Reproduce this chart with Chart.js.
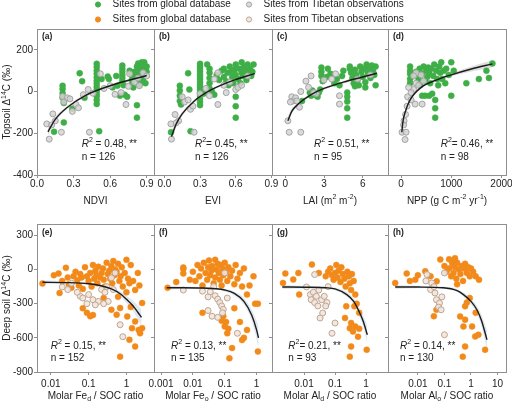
<!DOCTYPE html>
<html><head><meta charset="utf-8">
<script src="https://cdn.jsdelivr.net/npm/chart.js@4.4.1/dist/chart.umd.min.js"></script>
<style>
html,body{margin:0;padding:0;background:#fff;}
#wrap{position:relative;width:512px;height:403px;overflow:hidden;background:#fff;}
#wrap canvas{position:absolute;left:0;top:0;}
</style></head><body><div id="wrap"></div>
<script>
// ================= DATA =================
// tick values / labels
const topYTicks = [-400, -200, 0, 200];
const topYLabels = ['-400', '-200', '0', '200'];
const botYTicks = [-900, -600, -300, 0, 300];
const botYLabels = ['-900', '-600', '-300', '0', '300'];
const ndviTicks = [0, 0.3, 0.6, 0.9];  const ndviLabels = ['0.0', '0.3', '0.6', '0.9'];
const eviTicks = [0, 0.3, 0.6, 0.9];   const eviLabels = ['0.0', '0.3', '0.6', '0.9'];
const laiTicks = [0, 3, 6];            const laiLabels = ['0', '3', '6'];
const nppTicks = [0, 1000, 2000];      const nppLabels = ['0', '1000', '2000'];
const fedTicks = [0.01, 0.1, 1];       const fedLabels = ['0.01', '0.1', '1'];
const feoTicks = [0.001, 0.01, 0.1, 1]; const feoLabels = ['0.001', '0.01', '0.1', '1'];
const aldTicks = [0.01, 0.1, 1];       const aldLabels = ['0.01', '0.1', '1'];
const aloTicks = [0.01, 0.1, 1, 10];   const aloLabels = ['0.01', '0.1', '1', '10'];

// (a) NDVI
const ndviGlobal = [[0.14,-193],[0.21,28],[0.21,12],[0.21,-8],[0.21,-30],[0.22,-55],[0.22,-148],[0.29,-82],[0.35,88],[0.37,50],[0.39,-30],
 [0.49,133],[0.49,118],[0.49,100],[0.49,85],[0.49,68],[0.49,52],[0.49,38],[0.49,22],[0.49,8],[0.49,-8],[0.49,-22],[0.49,-40],[0.49,-60],
 [0.51,-190],[0.53,60],[0.58,72],[0.59,60],[0.62,20],[0.65,75],
 [0.70,125],[0.70,110],[0.70,95],[0.70,80],[0.70,65],[0.70,48],[0.71,30],[0.72,-15],[0.74,-25],[0.68,-20],[0.66,28],
 [0.76,100],[0.77,85],[0.78,60],[0.78,40],[0.79,20],[0.82,-65],[0.82,-125],
 [0.80,95],[0.82,120],[0.83,135],[0.84,110],[0.85,95],[0.85,75],[0.86,140],[0.86,115],[0.87,100],[0.87,60],[0.88,125],[0.88,85],
 [0.89,110],[0.89,40],[0.83,55],[0.84,30],[0.86,45],[0.90,95],[0.81,80],[0.88,140],[0.90,120]];
const ndviTibet = [[0.08,-155],[0.10,-228],[0.13,-107],[0.15,-140],[0.20,-195],[0.21,-24],[0.22,-50],[0.25,-30],[0.29,-95],[0.32,-62],
 [0.34,-78],[0.42,10],[0.43,-195],[0.46,-8],[0.52,85],[0.60,28],[0.64,-13],[0.69,-5],[0.73,-62],[0.75,25],[0.76,85],[0.80,45],
 [0.83,65],[0.84,28],[0.87,90],[0.90,75],[0.55,15],[0.38,-15],[0.27,-35],[0.12,-160]];
const ndviFitX = [0.09,0.15,0.25,0.4,0.6,0.9];
const ndviFitY = [-193,-133,-75,-18,28,77];
const ndviHi = [-175,-122,-68,-12,34,86];
const ndviLo = [-211,-144,-82,-24,22,68];

// (b) EVI
const eviGlobal = [[0.056,-195],[0.13,28],[0.13,5],[0.13,-20],[0.13,-45],[0.14,-62],[0.20,88],[0.22,-190],[0.21,10],
 [0.30,133],[0.30,120],[0.30,108],[0.30,95],[0.30,82],[0.30,70],[0.30,58],[0.30,45],[0.30,32],[0.30,20],[0.30,8],[0.30,-5],
 [0.30,-20],[0.30,-35],[0.30,-50],[0.30,-65],[0.33,-10],[0.36,130],[0.38,110],[0.38,90],[0.38,65],[0.38,40],[0.38,15],[0.40,0],[0.42,-15],
 [0.44,80],[0.46,55],[0.48,100],[0.50,110],[0.50,70],[0.52,50],[0.53,90],[0.54,30],[0.55,120],[0.56,95],[0.57,70],[0.58,40],
 [0.59,105],[0.60,130],[0.60,80],[0.60,-25],[0.60,-70],[0.60,-125],[0.62,60],[0.63,110],[0.64,40],[0.65,140],[0.65,90],[0.66,75],
 [0.67,120],[0.68,100],[0.69,55],[0.70,130],[0.70,85],[0.72,110],[0.73,75],[0.74,95],[0.75,130]];
const eviTibet = [[0.06,-228],[0.055,-155],[0.09,-110],[0.12,-140],[0.10,-150],[0.15,-25],[0.17,-50],[0.20,-40],[0.22,-85],[0.25,-195],
 [0.24,-70],[0.30,-10],[0.35,15],[0.38,-20],[0.45,-62],[0.50,30],[0.52,-5],[0.55,45],[0.42,60],[0.60,10],[0.62,20],[0.65,30],[0.70,75],[0.45,90]];
const eviFitX = [0.06,0.1,0.15,0.25,0.4,0.6,0.76];
const eviFitY = [-216,-155,-107,-46,10,58,86];
const eviHi = [-190,-140,-97,-39,16,65,96];
const eviLo = [-242,-170,-117,-53,4,51,76];

// (c) LAI
const laiGlobal = [[1.3,-45],[1.9,-5],[2.0,-20],[2.1,5],[2.3,-15],[2.5,-25],[2.6,-5],[2.7,10],[2.8,115],[2.8,95],[2.8,75],[2.9,50],
 [3.2,70],[3.5,85],[3.3,110],[3.8,40],[4.0,60],[4.2,30],[4.4,75],[4.5,100],[4.8,-5],[4.8,-25],[4.8,-48],[4.8,-80],[4.8,-125],
 [5.0,120],[5.1,90],[5.2,65],[5.3,40],[5.4,105],[5.5,80],[5.6,55],[5.7,30],[5.8,120],[5.9,95],[6.0,70],[6.1,110],[6.2,45],
 [6.3,130],[6.4,90],[6.5,115],[6.6,65],[6.7,125],[6.8,100],[6.9,80],[7.0,30],[7.0,120],[5.0,110],[6.2,20],[5.4,25]];
const laiTibet = [[0.2,-140],[0.3,-195],[1.2,-195],[0.5,-25],[0.6,-45],[0.8,-30],[1.1,-75],[1.2,0],[1.6,50],[2.0,75],[2.4,-10],
 [2.2,-5],[3.9,85],[4.2,-20],[4.2,-60],[3.6,60],[5.6,60],[6.6,80],[0.4,-50],[0.9,-45],[1.8,20],[3.0,55]];
const laiFitX = [0.2,0.5,1,2,3,4.5,6,7.1];
const laiFitY = [-140,-95,-60,-15,15,45,70,88];
const laiHi = [-118,-82,-51,-8,21,51,78,99];
const laiLo = [-162,-108,-69,-22,9,39,62,77];

// (d) NPP
const nppGlobal = [[180,120],[180,100],[180,85],[180,60],[180,40],[250,75],[300,95],[350,60],[370,110],[380,30],[420,85],[450,120],
 [480,50],[500,100],[520,70],[540,115],[560,-20],[560,90],[580,40],[600,110],[620,-10],[640,75],[660,130],[680,-40],[680,-80],
 [680,-125],[700,100],[720,60],[740,30],[760,120],[780,90],[800,140],[820,60],[850,100],[880,40],[900,110],[950,80],[1000,140],
 [1000,-20],[1050,100],[1300,40],[1550,60],[1700,100],[1750,65],[1820,135],[420,-20],[480,-20]];
const nppTibet = [[20,-195],[100,-195],[80,-230],[60,-140],[90,-110],[130,-25],[200,-40],[250,10],[300,40],[280,-60],[420,-60],
 [300,90],[400,80],[250,75],[150,20],[200,-5],[350,30],[450,50],[50,-160],[120,-70]];
const nppFitX = [15,40,80,180,400,700,1000,1400,1820];
const nppFitY = [-195,-140,-100,-40,20,55,80,108,133];
const nppHi = [-170,-125,-90,-33,26,61,88,120,150];
const nppLo = [-220,-155,-110,-47,14,49,72,96,116];

// (e) Fe_d
const fedGlobal = [[0.006,-123],[0.012,-50],[0.016,-35],[0.017,-206],[0.02,-100],[0.025,15],[0.028,-70],[0.03,-130],[0.035,-160],
 [0.04,-60],[0.045,-20],[0.05,-95],[0.055,-140],[0.06,-40],[0.065,-70],[0.07,-170],[0.08,20],[0.09,-60],[0.1,-100],[0.11,-30],
 [0.12,-150],[0.13,40],[0.14,-80],[0.15,-10],[0.16,-50],[0.17,-120],[0.18,25],[0.2,-70],[0.22,-30],[0.24,10],[0.25,-90],[0.27,-150],
 [0.3,60],[0.32,-40],[0.35,-10],[0.37,-80],[0.4,30],[0.42,-120],[0.45,75],[0.48,-50],[0.5,0],[0.55,-20],[0.6,50],[0.65,-100],
 [0.7,-60],[0.75,20],[0.8,-150],[0.9,-30],[1.0,85],[1.1,-80],[1.2,-120],[1.3,40],[1.5,-100],[1.7,-180],[2.0,-30],[2.2,-140],
 [0.07,-340],[0.09,-380],[0.11,-410],[0.13,-400],[0.4,-353],[0.55,-397],[0.68,-338],[1.05,-412],[1.4,-515],[1.7,-456],[2.1,-530],
 [2.6,-515],[2.3,-560],[1.7,-676],[1.2,-617],[0.68,-765],[2.6,-294],[1.3,-330],[0.25,-250],[0.6,-240],[1.0,-200]];
const fedTibet = [[0.02,-153],[0.028,-176],[0.035,-120],[0.06,-235],[0.07,-250],[0.1,-220],[0.13,-265],[0.18,-280],[0.15,-310],
 [0.22,-176],[0.27,-200],[0.33,-280],[0.45,-176],[0.4,-73],[0.5,-30],[0.68,-485],[0.8,-590],[0.09,-300],[0.25,-300],[0.3,-150],[0.05,-200]];
const fedFitX = [0.006,0.03,0.1,0.2,0.4,0.7,1.0,1.5,2.0,2.5];
const fedFitY = [-112,-115,-125,-140,-170,-215,-262,-320,-375,-420];
const fedHi = [-95,-105,-115,-128,-155,-192,-230,-275,-315,-350];
const fedLo = [-129,-125,-135,-152,-185,-238,-294,-365,-435,-490];

// (f) Fe_o
const feoGlobal = [[0.0016,-160],[0.003,-110],[0.005,-35],[0.005,5],[0.005,18],[0.008,-90],[0.01,-20],[0.012,-100],[0.014,40],
 [0.016,-60],[0.018,10],[0.02,-140],[0.022,60],[0.025,-30],[0.028,-90],[0.03,20],[0.032,80],[0.035,-50],[0.038,-10],[0.04,30],
 [0.045,-120],[0.05,85],[0.05,-70],[0.055,0],[0.06,50],[0.065,-30],[0.07,-90],[0.075,40],[0.08,-140],[0.085,10],[0.09,-50],
 [0.1,60],[0.11,-20],[0.12,-100],[0.13,20],[0.15,-60],[0.17,-10],[0.2,-130],[0.22,40],[0.25,-80],[0.3,-30],[0.35,-150],[0.4,10],
 [0.5,-220],[0.6,-140],[0.8,-60],[0.9,-300],[0.02,-380],[0.08,-450],[0.1,-500],[0.12,-560],[0.13,-520],[0.11,-460],[0.14,-780],
 [0.17,-690],[0.35,-620],[0.4,-600],[0.5,-530],[0.3,-460],[0.2,-340],[0.09,-410],[1.1,-720],[1.1,-300]];
const feoTibet = [[0.005,-180],[0.02,-190],[0.03,-240],[0.035,-195],[0.05,-230],[0.06,-260],[0.07,-290],[0.08,-320],[0.09,-350],
 [0.085,-380],[0.04,-410],[0.06,-420],[0.03,-360],[0.25,-560],[0.1,-30],[0.045,-150],[0.12,-250]];
const feoFitX = [0.0015,0.005,0.02,0.05,0.1,0.2,0.4,0.7,1.0,1.15];
const feoFitY = [-160,-160,-162,-168,-180,-210,-280,-400,-530,-600];
const feoHi = [-140,-148,-152,-158,-168,-192,-250,-350,-450,-500];
const feoLo = [-180,-172,-172,-178,-192,-228,-310,-450,-610,-700];

// (g) Al_d
const aldGlobal = [[0.0021,-118],[0.0025,-35],[0.0045,-88],[0.0066,-30],[0.007,-220],[0.018,44],[0.03,-30],[0.05,-60],[0.06,-20],
 [0.07,10],[0.08,-50],[0.09,-90],[0.1,-30],[0.11,40],[0.12,-70],[0.13,-10],[0.15,-110],[0.16,20],[0.18,-40],[0.2,-80],[0.22,-150],
 [0.25,-20],[0.28,-60],[0.3,-120],[0.33,-180],[0.35,-40],[0.4,-100],[0.45,-220],[0.21,-426],[0.3,-515],[0.33,-470],[0.38,-545],
 [0.45,-500],[0.55,-590],[0.6,-520],[0.33,-676],[0.3,-765],[1.05,-705],[0.23,-323],[0.42,-323],[0.6,-380],[0.5,-300]];
const aldTibet = [[0.012,-153],[0.016,-220],[0.02,-200],[0.017,-265],[0.022,-290],[0.025,-235],[0.028,-320],[0.037,-265],[0.045,-235],
 [0.04,-382],[0.033,-426],[0.055,-290],[0.05,-320],[0.1,-470],[0.08,-560],[0.022,-44],[0.03,-180],[0.06,-150]];
const aldFitX = [0.002,0.01,0.05,0.1,0.24,0.4,0.56,0.8,1.1];
const aldFitY = [-153,-155,-160,-170,-220,-280,-353,-450,-573];
const aldHi = [-135,-143,-150,-158,-200,-255,-320,-400,-500];
const aldLo = [-171,-167,-170,-182,-240,-305,-386,-500,-646];

// (h) Al_o
const aloGlobal = [[0.0014,-118],[0.0038,-35],[0.005,-100],[0.008,-90],[0.019,-15],[0.03,-60],[0.051,-103],[0.07,88],[0.19,74],
 [0.1,30],[0.12,-20],[0.15,10],[0.18,-60],[0.2,50],[0.22,-30],[0.25,20],[0.28,-80],[0.3,60],[0.35,0],[0.4,-40],[0.45,30],[0.5,-100],
 [0.55,10],[0.6,50],[0.7,-30],[0.8,20],[0.9,-60],[1.0,10],[1.2,-20],[1.5,-60],[2.0,-90],[0.15,90],[0.25,100],[0.05,-353],[0.04,-410],
 [0.39,-412],[0.52,-500],[0.6,-440],[0.6,-323],[0.7,-290],[0.49,-765],[0.6,-676],[1.44,-588],[1.1,-500],[1.9,-573],[3.4,-705],
 [1.5,-380],[0.9,-250],[0.01,-50],[0.3,-130]];
const aloTibet = [[0.022,-44],[0.033,-118],[0.03,-176],[0.044,-206],[0.05,-265],[0.065,-294],[0.06,-330],[0.075,-353],[0.1,-573],
 [0.04,-150],[0.08,-240],[0.1,-30],[0.02,-100]];
const aloFitX = [0.0014,0.01,0.09,0.3,0.52,1.0,1.67,2.5,4.0];
const aloFitY = [-153,-154,-160,-185,-220,-280,-353,-450,-617];
const aloHi = [-135,-143,-150,-172,-202,-255,-320,-400,-530];
const aloLo = [-171,-165,-170,-198,-238,-305,-386,-500,-700];

const r2Values = ['0.48','0.45','0.51','0.46','0.15','0.13','0.21','0.14'];
const nValues = ['126','126','95','98','152','135','93','130'];
const panelLetters = ['(a)','(b)','(c)','(d)','(e)','(f)','(g)','(h)'];

// ================= STYLE / LAYOUT =================
const FONT = '"Liberation Sans", Arial, Helvetica, sans-serif';
const TXT = '#222';
const FRAME = '#8f8f8f';
const GREEN = '#3fae47', ORANGE = '#f28a1b';
const TIB_TOP_FILL = 'rgba(212,212,212,0.85)', TIB_TOP_EDGE = '#a3a3a3';
const TIB_BOT_FILL = 'rgba(242,228,218,0.9)', TIB_BOT_EDGE = '#bda593';
const BAND_TOP = 'rgba(160,160,160,0.35)', BAND_BOT = 'rgba(170,192,212,0.38)';

const colsX = [37, 154, 272, 388, 506];
const rows = [{top: 29, bottom: 175, xH: 32, tickPad: 0, titleOff: 26, r2Off: 31, nOff: 18, lblOff: 8},
              {top: 224, bottom: 372, xH: 30, tickPad: 3, titleOff: 24, r2Off: 26, nOff: 14, lblOff: 9}];

const sup = (t) => ({t, sup: true});
const sub = (t) => ({t, sub: true});
const xTitles = [
  [{t:'NDVI'}], [{t:'EVI'}],
  [{t:'LAI (m'}, sup('2'), {t:' m'}, sup('-2'), {t:')'}],
  [{t:'NPP (g C m'}, sup('-2'), {t:' yr'}, sup('-1'), {t:')'}],
  [{t:'Molar Fe'}, sub('d'), {t:' / SOC ratio'}],
  [{t:'Molar Fe'}, sub('o'), {t:' / SOC ratio'}],
  [{t:'Molar Al'}, sub('d'), {t:' / SOC ratio'}],
  [{t:'Molar Al'}, sub('o'), {t:' / SOC ratio'}]
];
const yTitles = [[{t:'Topsoil \u0394'}, sup('14'), {t:'C (\u2030)'}], [{t:'Deep soil \u0394'}, sup('14'), {t:'C (\u2030)'}]];
const r2Eq = [' = ', '= ', ' = ', '= ', ' = ', ' = ', '= ', ' = '];
const r2X = [44.7, 41, 42, 52.7, 13.7, 17, 16.3, 12];

function drawRich(ctx, runs, x, y, size, align) {
  const f = (r) => `${r.italic ? 'italic ' : ''}${r.bold ? 'bold ' : ''}${(r.sup || r.sub) ? size * 0.7 : size}px ${FONT}`;
  let total = 0;
  const ws = runs.map(r => { ctx.font = f(r); const w = ctx.measureText(r.t).width; total += w; return w; });
  let cx = align === 'center' ? x - total / 2 : x;
  ctx.textBaseline = 'middle'; ctx.textAlign = 'left'; ctx.fillStyle = TXT;
  runs.forEach((r, i) => {
    ctx.font = f(r);
    const dy = r.sup ? -size * 0.38 : (r.sub ? size * 0.32 : 0);
    ctx.fillText(r.t, cx, y + dy);
    cx += ws[i];
  });
}

const decor = {
  id: 'decor',
  afterDraw(chart, args, o) {
    const ctx = chart.ctx, ca = chart.chartArea;
    ctx.save();
    ctx.strokeStyle = FRAME; ctx.lineWidth = 1;
    ctx.strokeRect(Math.round(ca.left) + 0.5, Math.round(ca.top) + 0.5, Math.round(ca.right - ca.left), Math.round(ca.bottom - ca.top));
    const row = rows[o.row];
    // panel letter
    ctx.font = `bold 8.5px ${FONT}`; ctx.fillStyle = TXT; ctx.textBaseline = 'middle'; ctx.textAlign = 'left';
    ctx.fillText(o.letter, ca.left + 5, ca.top + row.lblOff);
    // stats
    drawRich(ctx, [{t:'R', italic:true}, sup('2'), {t: r2Eq[o.idx] + o.r2 + ', **'}], ca.left + r2X[o.idx], ca.bottom - row.r2Off, 10, 'left');
    drawRich(ctx, [{t:'n = ' + o.n}], ca.left + r2X[o.idx], ca.bottom - row.nOff, 10, 'left');
    // x title
    drawRich(ctx, o.xTitle, (ca.left + ca.right) / 2, ca.bottom + row.titleOff, 10, 'center');
    // y title
    if (o.yTitle) {
      ctx.save(); ctx.translate(7.5, (ca.top + ca.bottom) / 2); ctx.rotate(-Math.PI / 2);
      drawRich(ctx, o.yTitle, 0, 0, 10, 'center'); ctx.restore();
    }
    // legend
    if (o.legend) {
      const items = [[98, 4.5, GREEN, GREEN, 'Sites from global database'], [249, 4.5, TIB_TOP_FILL, TIB_TOP_EDGE, 'Sites from Tibetan observations'],
                     [98, 19.5, ORANGE, ORANGE, 'Sites from global database'], [249, 19.5, TIB_BOT_FILL, TIB_BOT_EDGE, 'Sites from Tibetan observations']];
      items.forEach(([x, y, fill, edge, text]) => {
        ctx.beginPath(); ctx.arc(x, y, 2.6, 0, Math.PI * 2); ctx.fillStyle = fill; ctx.fill();
        ctx.lineWidth = 1; ctx.strokeStyle = edge; ctx.stroke();
        drawRich(ctx, [{t: text}], x + 14.5, y, 10, 'left');
      });
    }
    ctx.restore();
  }
};

const toPts = (arr) => arr.map(p => ({x: p[0], y: p[1]}));
const toLine = (xs, ys) => xs.map((x, i) => ({x, y: ys[i]}));

const panels = [
  {x:'linear', min:0, max:0.96, ticks:ndviTicks, labels:ndviLabels, g:ndviGlobal, t:ndviTibet, fx:ndviFitX, fy:ndviFitY, hi:ndviHi, lo:ndviLo},
  {x:'linear', min:-0.087, max:0.905, ticks:eviTicks, labels:eviLabels, g:eviGlobal, t:eviTibet, fx:eviFitX, fy:eviFitY, hi:eviHi, lo:eviLo},
  {x:'linear', min:-1.03, max:7.96, ticks:laiTicks, labels:laiLabels, g:laiGlobal, t:laiTibet, fx:laiFitX, fy:laiFitY, hi:laiHi, lo:laiLo},
  {x:'linear', min:-260, max:2090, ticks:nppTicks, labels:nppLabels, g:nppGlobal, t:nppTibet, fx:nppFitX, fy:nppFitY, hi:nppHi, lo:nppLo},
  {x:'logarithmic', min:0.0043, max:5.36, ticks:fedTicks, labels:fedLabels, g:fedGlobal, t:fedTibet, fx:fedFitX, fy:fedFitY, hi:fedHi, lo:fedLo},
  {x:'logarithmic', min:0.00063, max:3.05, ticks:feoTicks, labels:feoLabels, g:feoGlobal, t:feoTibet, fx:feoFitX, fy:feoFitY, hi:feoHi, lo:feoLo},
  {x:'logarithmic', min:0.00093, max:5.1, ticks:aldTicks, labels:aldLabels, g:aldGlobal, t:aldTibet, fx:aldFitX, fy:aldFitY, hi:aldHi, lo:aldLo},
  {x:'logarithmic', min:0.00075, max:20.8, ticks:aloTicks, labels:aloLabels, g:aloGlobal, t:aloTibet, fx:aloFitX, fy:aloFitY, hi:aloHi, lo:aloLo}
];

const wrap = document.getElementById('wrap');
const Y_W = 36;
panels.forEach((p, idx) => {
  const r = idx < 4 ? 0 : 1, c = idx % 4, row = rows[r];
  const fl = colsX[c], fr = colsX[c + 1];
  const cv = document.createElement('canvas');
  cv.width = 512; cv.height = 403; cv.style.width = '512px'; cv.style.height = '403px';
  wrap.appendChild(cv);
  const yT = r === 0 ? topYTicks : botYTicks, yL = r === 0 ? topYLabels : botYLabels;
  const ptCol = r === 0 ? GREEN : ORANGE;
  const tibFill = r === 0 ? TIB_TOP_FILL : TIB_BOT_FILL, tibEdge = r === 0 ? TIB_TOP_EDGE : TIB_BOT_EDGE;
  const band = r === 0 ? BAND_TOP : BAND_BOT;
  new Chart(cv, {
    type: 'scatter',
    data: { datasets: [
      {label:'Sites from global database', data: toPts(p.g), backgroundColor: ptCol, borderColor: ptCol, borderWidth: 0.5, pointRadius: 3, order: 2},
      {label:'Sites from Tibetan observations', data: toPts(p.t), backgroundColor: tibFill, borderColor: tibEdge, borderWidth: 1, pointRadius: 3, order: 1},
      {type:'line', label:'fit', data: toLine(p.fx, p.fy), borderColor:'#1c1c1c', borderWidth: 1.4, pointRadius: 0, fill: false, cubicInterpolationMode:'monotone', order: 0},
      {type:'line', label:'ci upper', data: toLine(p.fx, p.hi), borderWidth: 0, borderColor:'rgba(0,0,0,0)', pointRadius: 0, fill: false, cubicInterpolationMode:'monotone', order: 4},
      {type:'line', label:'ci lower', data: toLine(p.fx, p.lo), borderWidth: 0, borderColor:'rgba(0,0,0,0)', backgroundColor: band, pointRadius: 0, fill: '-1', cubicInterpolationMode:'monotone', order: 3}
    ]},
    options: {
      responsive: false, devicePixelRatio: 1, animation: false,
      events: [],
      layout: { padding: { left: fl - Y_W, right: 512 - fr, top: row.top, bottom: 403 - row.bottom - row.xH } },
      plugins: { legend: {display: false}, tooltip: {enabled: false},
        decor: { idx, row: r, letter: panelLetters[idx], r2: r2Values[idx], n: nValues[idx], xTitle: xTitles[idx],
                 yTitle: c === 0 ? yTitles[r] : null, legend: idx === 0 } },
      scales: {
        x: {
          type: p.x, position: 'bottom', min: p.min, max: p.max,
          grid: { drawOnChartArea: false, drawTicks: true, tickLength: 3, color: FRAME },
          border: { display: false },
          ticks: { autoSkip: false, maxRotation: 0, padding: row.tickPad, color: TXT, font: {family: FONT, size: 10},
                   callback: (v, i) => p.labels[i] },
          afterBuildTicks: (s) => { s.ticks = p.ticks.map(v => ({value: v})); },
          afterFit: (s) => { s.height = row.xH; s.paddingLeft = 0; s.paddingRight = 0; }
        },
        y: {
          type: 'linear', position: 'left', min: r === 0 ? -400 : -900, max: r === 0 ? 300 : 400,
          grid: { drawOnChartArea: false, drawTicks: true, tickLength: 3, color: FRAME },
          border: { display: false },
          ticks: { display: c === 0, padding: 1, color: TXT, font: {family: FONT, size: 10}, callback: (v, i) => yL[i] },
          afterBuildTicks: (s) => { s.ticks = yT.map(v => ({value: v})); },
          afterFit: (s) => { s.width = Y_W; s.paddingTop = 0; s.paddingBottom = 0; }
        }
      }
    },
    plugins: [decor]
  });
});
</script>
</body></html>
